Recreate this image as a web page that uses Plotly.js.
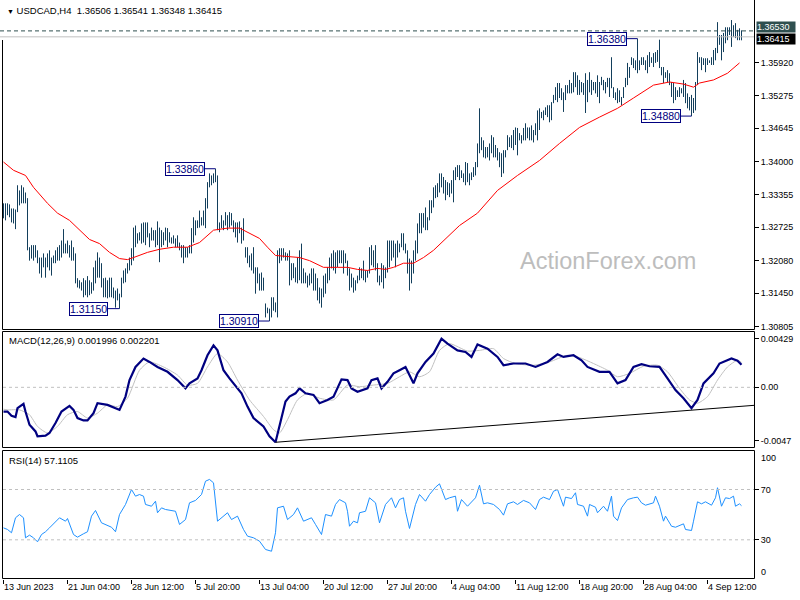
<!DOCTYPE html>
<html><head><meta charset="utf-8">
<script src="https://cdn.plot.ly/plotly-3.0.1.min.js"></script>
<style>html,body{margin:0;padding:0;background:#fff}#chart{width:800px;height:600px}</style>
</head><body><div id="chart"></div>
<script>
// ---------- DATA ----------
const symbol = 'USDCAD,H4';
const lastOpen = 1.36506;
const lastClose = 1.36415;
const levelLine = 1.36530;

const highs = [
1.3319,1.3319,1.3319,1.3317,1.3309,1.3309,1.3307,1.3354,1.3344,1.3354,
1.3350,1.3340,1.3329,1.3234,1.3238,1.3238,1.3238,1.3228,1.3214,1.3214,
1.3222,1.3214,1.3222,1.3228,1.3214,1.3218,1.3228,1.3234,1.3238,1.3247,
1.3269,1.3241,1.3247,1.3238,1.3247,1.3234,1.3222,1.3174,1.3170,1.3166,
1.3174,1.3170,1.3178,1.3170,1.3166,1.3195,1.3208,1.3224,1.3214,1.3203,
1.3174,1.3175,1.3170,1.3175,1.3175,1.3156,1.3150,1.3154,1.3144,1.3175,
1.3189,1.3193,1.3203,1.3214,1.3232,1.3272,1.3276,1.3261,1.3263,1.3280,
1.3282,1.3282,1.3282,1.3261,1.3272,1.3267,1.3267,1.3284,1.3272,1.3267,
1.3263,1.3272,1.3271,1.3263,1.3253,1.3257,1.3251,1.3257,1.3243,1.3238,
1.3238,1.3234,1.3234,1.3238,1.3271,1.3292,1.3286,1.3286,1.3305,1.3292,
1.3305,1.3329,1.3360,1.3377,1.3373,1.3377,1.3386,1.3373,1.3282,1.3296,
1.3286,1.3302,1.3296,1.3302,1.3300,1.3286,1.3282,1.3282,1.3284,1.3272,
1.3290,1.3234,1.3234,1.3218,1.3222,1.3234,1.3195,1.3195,1.3183,1.3185,
1.3175,1.3125,1.3117,1.3115,1.3137,1.3137,1.3127,1.3228,1.3232,1.3232,
1.3232,1.3224,1.3222,1.3228,1.3203,1.3203,1.3195,1.3214,1.3228,1.3241,
1.3193,1.3185,1.3179,1.3183,1.3193,1.3193,1.3183,1.3174,1.3156,1.3154,
1.3179,1.3183,1.3195,1.3214,1.3222,1.3228,1.3224,1.3228,1.3228,1.3228,
1.3228,1.3222,1.3208,1.3193,1.3183,1.3175,1.3170,1.3179,1.3195,1.3193,
1.3208,1.3189,1.3189,1.3234,1.3238,1.3228,1.3238,1.3203,1.3179,1.3203,
1.3199,1.3195,1.3247,1.3247,1.3247,1.3247,1.3241,1.3247,1.3241,1.3261,
1.3261,1.3241,1.3228,1.3212,1.3208,1.3228,1.3247,1.3280,1.3300,1.3300,
1.3300,1.3311,1.3292,1.3325,1.3325,1.3350,1.3354,1.3358,1.3377,1.3377,
1.3370,1.3364,1.3360,1.3358,1.3364,1.3383,1.3389,1.3393,1.3393,1.3383,
1.3377,1.3399,1.3397,1.3377,1.3379,1.3389,1.3399,1.3435,1.3503,1.3447,
1.3441,1.3428,1.3428,1.3435,1.3451,1.3447,1.3432,1.3426,1.3418,1.3416,
1.3422,1.3422,1.3451,1.3447,1.3451,1.3461,1.3466,1.3465,1.3455,1.3451,
1.3465,1.3474,1.3466,1.3466,1.3470,1.3461,1.3474,1.3499,1.3503,1.3496,
1.3499,1.3505,1.3509,1.3509,1.3515,1.3529,1.3544,1.3552,1.3552,1.3542,
1.3534,1.3548,1.3548,1.3558,1.3552,1.3573,1.3573,1.3567,1.3558,1.3554,
1.3552,1.3571,1.3558,1.3573,1.3558,1.3554,1.3554,1.3567,1.3554,1.3564,
1.3558,1.3554,1.3562,1.3562,1.3602,1.3544,1.3534,1.3542,1.3538,1.3525,
1.3544,1.3562,1.3591,1.3583,1.3602,1.3600,1.3596,1.3638,1.3596,1.3602,
1.3602,1.3596,1.3606,1.3612,1.3602,1.3610,1.3612,1.3616,1.3636,1.3583,
1.3583,1.3573,1.3577,1.3571,1.3554,1.3552,1.3544,1.3538,1.3544,1.3542,
1.3558,1.3552,1.3532,1.3525,1.3529,1.3523,1.3554,1.3612,1.3602,1.3602,
1.3600,1.3600,1.3600,1.3596,1.3602,1.3616,1.3620,1.3670,1.3645,1.3645,
1.3649,1.3660,1.3660,1.3660,1.3674,1.3664,1.3668,1.3655,1.3658,1.36541];

const lows = [
1.3290,1.3286,1.3296,1.3292,1.3282,1.3280,1.3269,1.3302,1.3315,1.3319,
1.3319,1.3319,1.3228,1.3208,1.3212,1.3208,1.3214,1.3203,1.3183,1.3175,
1.3195,1.3175,1.3195,1.3189,1.3179,1.3203,1.3203,1.3208,1.3208,1.3214,
1.3222,1.3222,1.3222,1.3214,1.3208,1.3208,1.3164,1.3156,1.3154,1.3150,
1.3137,1.3141,1.3137,1.3141,1.3144,1.3150,1.3164,1.3175,1.3175,1.3156,
1.3137,1.3137,1.3135,1.3137,1.3137,1.3135,1.3117,1.3131,1.3115,1.3137,
1.3164,1.3166,1.3183,1.3189,1.3199,1.3208,1.3234,1.3241,1.3247,1.3241,
1.3243,1.3238,1.3253,1.3234,1.3247,1.3247,1.3234,1.3238,1.3205,1.3234,
1.3238,1.3247,1.3234,1.3243,1.3241,1.3241,1.3234,1.3234,1.3228,1.3214,
1.3203,1.3214,1.3214,1.3222,1.3222,1.3243,1.3257,1.3271,1.3272,1.3276,
1.3276,1.3271,1.3309,1.3350,1.3354,1.3358,1.3360,1.3267,1.3263,1.3271,
1.3267,1.3276,1.3267,1.3272,1.3276,1.3263,1.3253,1.3243,1.3261,1.3241,
1.3247,1.3214,1.3203,1.3195,1.3189,1.3183,1.3144,1.3164,1.3150,1.3150,
1.3150,1.3098,1.3106,1.3091,1.3098,1.3111,1.3108,1.3098,1.3203,1.3208,
1.3214,1.3208,1.3208,1.3160,1.3170,1.3174,1.3166,1.3164,1.3170,1.3164,
1.3164,1.3164,1.3156,1.3160,1.3164,1.3150,1.3150,1.3131,1.3125,1.3117,
1.3137,1.3144,1.3164,1.3170,1.3193,1.3189,1.3183,1.3195,1.3203,1.3203,
1.3183,1.3203,1.3179,1.3150,1.3156,1.3146,1.3150,1.3164,1.3170,1.3174,
1.3170,1.3166,1.3175,1.3183,1.3199,1.3195,1.3189,1.3166,1.3160,1.3166,
1.3154,1.3174,1.3185,1.3195,1.3208,1.3214,1.3195,1.3214,1.3224,1.3234,
1.3228,1.3222,1.3183,1.3150,1.3164,1.3183,1.3208,1.3222,1.3261,1.3261,
1.3272,1.3267,1.3267,1.3286,1.3300,1.3311,1.3329,1.3331,1.3340,1.3350,
1.3338,1.3325,1.3335,1.3331,1.3338,1.3321,1.3364,1.3370,1.3364,1.3368,
1.3360,1.3354,1.3360,1.3354,1.3364,1.3370,1.3373,1.3389,1.3416,1.3422,
1.3408,1.3406,1.3408,1.3402,1.3416,1.3408,1.3408,1.3402,1.3389,1.3370,
1.3377,1.3408,1.3422,1.3428,1.3426,1.3422,1.3432,1.3412,1.3441,1.3435,
1.3441,1.3441,1.3445,1.3441,1.3441,1.3437,1.3451,1.3441,1.3461,1.3484,
1.3480,1.3490,1.3486,1.3476,1.3480,1.3513,1.3519,1.3515,1.3523,1.3519,
1.3496,1.3519,1.3532,1.3532,1.3532,1.3534,1.3544,1.3529,1.3529,1.3534,
1.3529,1.3494,1.3515,1.3534,1.3529,1.3538,1.3532,1.3525,1.3513,1.3548,
1.3538,1.3532,1.3544,1.3525,1.3542,1.3523,1.3519,1.3513,1.3515,1.3509,
1.3523,1.3544,1.3548,1.3562,1.3587,1.3581,1.3577,1.3571,1.3577,1.3587,
1.3587,1.3577,1.3571,1.3583,1.3591,1.3583,1.3591,1.3593,1.3581,1.3567,
1.3552,1.3562,1.3554,1.3548,1.3525,1.3513,1.3519,1.3525,1.3525,1.3532,
1.3525,1.3513,1.3503,1.3499,1.3488,1.3494,1.3499,1.3548,1.3591,1.3577,
1.3587,1.3573,1.3587,1.3591,1.3587,1.3587,1.3596,1.3610,1.3626,1.3596,
1.3612,1.3629,1.3635,1.3645,1.3622,1.3641,1.3639,1.3635,1.3635,1.36348];

// moving average (red line), sampled at bar numbers
const emaIdx = [0,5,11,15,22,27,33,38,43,48,53,58,62,65,72,78,85,92,98,105,
112,118,125,128,132,136,142,148,153,160,167,172,177,182,187,191,195,200,205,210,
215,222,228,237,247,257,268,278,288,298,307,315,325,333,340,345,348,355,362,368];
const emaVal = [1.3399,1.3383,1.3373,1.3350,1.3319,1.3300,1.3286,1.3267,1.3249,1.3241,
1.3224,1.3212,1.3210,1.3214,1.3224,1.3230,1.3234,1.3234,1.3243,1.3267,
1.3271,1.3271,1.3257,1.3251,1.3234,1.3218,1.3216,1.3214,1.3208,1.3195,
1.3195,1.3195,1.3191,1.3189,1.3193,1.3191,1.3195,1.3203,1.3203,1.3214,
1.3228,1.3253,1.3276,1.3300,1.3344,1.3373,1.3402,1.3435,1.3466,1.3486,
1.3503,1.3523,1.3548,1.3554,1.3550,1.3544,1.3552,1.3558,1.3571,1.3591];

// swing labels
const swingIdx = [106, 58, 133, 317, 344];
const swingVal = [1.33860, 1.31150, 1.30910, 1.36380, 1.34880];

// MACD(12,26,9)
const macdIdx = [0,2,4,6,7,10,11,13,16,17,21,23,26,29,33,35,37,40,42,45,
47,52,56,58,61,63,66,70,73,77,82,87,91,93,97,99,102,105,107,110,
113,117,119,122,125,130,133,136,138,141,143,146,148,151,155,158,162,165,169,172,
174,177,182,184,187,189,192,195,198,201,205,207,211,215,219,222,227,231,234,237,
242,247,250,255,261,266,272,277,280,285,289,292,298,303,307,311,315,319,323,328,
332,336,340,344,347,350,355,358,364,367,369];
const macdVal = [-0.00214,-0.00214,-0.00251,-0.00263,-0.00184,-0.00146,-0.00214,-0.00330,-0.00389,-0.00432,
-0.00426,-0.00403,-0.00315,-0.00214,-0.00164,-0.00199,-0.00271,-0.00292,-0.00292,-0.00228,
-0.00140,-0.00155,-0.00184,-0.00199,-0.00082,0.00064,0.00180,0.00254,0.00224,0.00180,
0.00137,0.00064,-0.00009,0.00035,0.00079,0.00151,0.00283,0.00370,0.00326,0.00151,
0.00079,-0.00009,-0.00053,-0.00170,-0.00271,-0.00345,-0.00432,-0.00485,-0.00345,-0.00126,
-0.00082,-0.00053,-0.00009,-0.00053,-0.00067,-0.00140,-0.00111,-0.00082,0.00070,0.00064,
-0.00009,-0.00039,-0.00009,0.00064,0.00079,-0.00009,0.00049,0.00123,0.00151,0.00180,
0.00035,0.00123,0.00224,0.00298,0.00429,0.00385,0.00326,0.00312,0.00268,0.00379,
0.00341,0.00268,0.00195,0.00210,0.00210,0.00180,0.00224,0.00291,0.00268,0.00283,
0.00239,0.00180,0.00137,0.00137,0.00035,0.00064,0.00180,0.00204,0.00186,0.00180,
0.00079,-0.00024,-0.00096,-0.00184,-0.00111,0.00035,0.00123,0.00210,0.00254,0.00235,
0.001996];
const sigIdx = [0,2,8,13,17,22,27,32,37,42,47,52,57,62,68,73,80,87,92,97,
102,107,112,117,123,130,135,138,142,147,152,158,165,172,178,185,192,198,203,208,
213,218,223,232,238,245,250,256,265,273,282,288,295,302,307,313,320,327,332,338,
343,347,352,357,362,367,369];
const sigVal = [-0.00193,-0.00199,-0.00199,-0.00242,-0.00345,-0.00403,-0.00345,-0.00242,-0.00214,-0.00271,
-0.00228,-0.00155,-0.00170,-0.00096,0.00151,0.00224,0.00180,0.00108,0.00020,0.00035,
0.00180,0.00298,0.00224,0.00064,-0.00111,-0.00257,-0.00374,-0.00403,-0.00286,-0.00111,
-0.00053,-0.00096,-0.00111,0.00020,0.00005,0.00020,0.00035,0.00093,0.00137,0.00093,
0.00137,0.00326,0.00385,0.00320,0.00326,0.00341,0.00254,0.00210,0.00195,0.00224,
0.00283,0.00263,0.00210,0.00151,0.00093,0.00123,0.00186,0.00195,0.00137,-0.00009,
-0.00111,-0.00140,-0.00082,0.00064,0.00180,0.00239,0.002201];
const trendIdx = [136, 375.25];
const trendVal = [-0.00485, -0.00159];

// RSI(14)
const rsiIdx = [0,2,4,6,8,10,11,13,15,17,19,21,23,26,28,31,32,35,37,40,
42,44,46,49,51,54,56,58,61,64,66,68,70,71,74,76,77,79,81,86,
88,91,93,96,99,101,103,105,107,110,112,114,117,120,122,125,128,131,134,136,
137,140,142,145,147,150,152,154,156,159,161,164,166,168,171,172,173,175,177,178,
181,183,186,188,191,194,196,198,200,201,203,204,206,208,211,213,216,218,221,223,
226,227,229,232,236,238,240,242,245,248,250,252,255,257,260,263,266,268,270,273,
275,277,280,281,284,286,287,290,292,293,296,297,300,302,304,305,307,309,312,315,
317,319,321,325,326,328,330,331,334,336,340,341,344,345,347,349,351,354,356,357,
359,361,363,365,366,368,369];
const rsiVal = [39.5,38.2,35.6,47.5,50.1,47.5,31.6,33.7,31.6,28.4,34.2,36.4,39.5,44.3,47.5,44.8,46.9,34.2,32.1,34.8,
36.4,48.8,53.3,43.5,42.2,40.0,36.4,50.1,58.1,70.0,64.7,66.0,64.7,58.1,56.7,60.7,51.5,55.4,54.1,52.7,
42.2,46.1,59.4,61.3,66.0,76.6,78.0,75.3,44.8,48.8,51.5,46.1,48.8,38.2,32.9,31.6,28.9,22.3,20.9,35.6,
55.4,56.7,46.1,50.1,55.4,44.8,46.1,47.5,42.2,34.2,50.1,48.8,58.1,62.0,59.4,52.7,40.8,44.8,43.5,51.5,
52.7,63.4,59.4,43.5,58.1,63.4,55.4,62.0,63.4,52.7,39.0,46.1,58.1,66.0,60.7,66.0,71.8,74.5,62.0,63.4,
64.7,52.7,62.0,56.7,63.4,73.4,58.6,59.4,58.1,54.1,49.6,58.6,60.2,58.1,61.3,59.4,54.1,62.0,63.9,62.0,
68.6,70.0,56.7,63.9,62.8,67.4,58.1,56.7,48.8,58.1,55.9,51.5,56.7,52.7,64.7,48.8,45.3,55.4,62.0,63.4,
63.9,59.4,57.5,59.4,64.7,56.7,44.8,48.8,40.8,40.0,42.7,38.2,37.4,44.8,60.2,58.6,60.2,57.5,63.4,71.4,
56.7,63.4,62.8,64.7,56.7,58.6,57.1105];

// axes
const xTickIdx = [0,32,64,96,128,160,192,224,256,288,320,352];
const xTickText = ['13 Jun 2023','21 Jun 04:00','28 Jun 12:00','5 Jul 20:00','13 Jul 04:00','20 Jul 12:00',
 '27 Jul 20:00','4 Aug 04:00','11 Aug 12:00','18 Aug 20:00','28 Aug 04:00','4 Sep 12:00'];
const priceTicks = [1.35920,1.35275,1.34645,1.34000,1.33355,1.32725,1.32080,1.31450,1.30805];
const macdTicks = [0.00429, 0, -0.0047];
const macdTickText = ['0.00429','0.00','-0.0047'];
const rsiLevels = [70, 30];

// ---------- DRAWING ----------
const W = 800, H = 600;
const PX = x => x / W, PY = y => 1 - y / H;
const FONT = 'Liberation Sans, Arial, sans-serif';
const BAR = '#133f5c';

const bx = [], by = [];
for (let i = 0; i < highs.length; i++) { bx.push(i, i, null); by.push(lows[i], highs[i], null); }

const traces = [
  {x: bx, y: by, type: 'scatter', mode: 'lines', line: {color: BAR, width: 1}, xaxis: 'x', yaxis: 'y', hoverinfo: 'skip'},
  {x: emaIdx, y: emaVal, type: 'scatter', mode: 'lines', line: {color: '#ff0000', width: 1}, xaxis: 'x', yaxis: 'y', hoverinfo: 'skip'},
  {x: sigIdx, y: sigVal, type: 'scatter', mode: 'lines', line: {color: '#c0c0c0', width: 1, shape: 'spline', smoothing: 0.6}, xaxis: 'x', yaxis: 'y2', hoverinfo: 'skip'},
  {x: macdIdx, y: macdVal, type: 'scatter', mode: 'lines', line: {color: '#000080', width: 2.2}, xaxis: 'x', yaxis: 'y2', hoverinfo: 'skip'},
  {x: trendIdx, y: trendVal, type: 'scatter', mode: 'lines', line: {color: '#000000', width: 1}, xaxis: 'x', yaxis: 'y2', hoverinfo: 'skip'},
  {x: rsiIdx, y: rsiVal, type: 'scatter', mode: 'lines', line: {color: '#1e90ff', width: 1}, xaxis: 'x', yaxis: 'y3', hoverinfo: 'skip'}
];

const last = highs.length - 1;
const fx = v => v.toFixed(5);

const tickFont = {family: FONT, size: 9, color: '#000'};
const yCommon = {side: 'right', anchor: 'x', showgrid: false, zeroline: false, showline: false,
  ticks: 'outside', ticklen: 4, tickcolor: '#000', tickfont: tickFont, fixedrange: true};

const shapes = [];
const line = (x0, y0, x1, y1, color, dash) => shapes.push({type: 'line', xref: 'paper', yref: 'paper',
  x0: PX(x0), y0: PY(y0), x1: PX(x1), y1: PY(y1), line: {color: color, width: 1, dash: dash || 'solid'}});
// panel frames
line(754.5, 0, 754.5, 329.5, '#000');
line(2.5, 329.5, 754.5, 329.5, '#000');
line(2.5, 40, 2.5, 329.5, '#000');
shapes.push({type: 'rect', xref: 'paper', yref: 'paper', x0: PX(2.5), x1: PX(754.5), y0: PY(331.5), y1: PY(447.5), line: {color: '#000', width: 1}});
shapes.push({type: 'rect', xref: 'paper', yref: 'paper', x0: PX(2.5), x1: PX(754.5), y0: PY(450.5), y1: PY(578.5), line: {color: '#000', width: 1}});
// price levels
shapes.push({type: 'line', xref: 'paper', yref: 'y', x0: PX(0), x1: PX(754), y0: lastClose, y1: lastClose, line: {color: '#c0c0c0', width: 1}});
shapes.push({type: 'line', xref: 'paper', yref: 'y', x0: PX(0), x1: PX(754), y0: levelLine, y1: levelLine, line: {color: '#2f4f4f', width: 1, dash: '4px,3px'}});
// MACD zero and RSI levels
shapes.push({type: 'line', xref: 'paper', yref: 'y2', x0: PX(3), x1: PX(754), y0: 0, y1: 0, line: {color: '#c0c0c0', width: 1, dash: '3px,3px'}});
rsiLevels.forEach(v => shapes.push({type: 'line', xref: 'paper', yref: 'y3', x0: PX(3), x1: PX(754), y0: v, y1: v, line: {color: '#c0c0c0', width: 1, dash: '3px,3px'}}));

const annotations = [
  {xref: 'paper', yref: 'paper', x: PX(5), y: PY(11), xanchor: 'left', yanchor: 'middle', showarrow: false,
   text: '<span style="font-size:7px">▼</span> ' + symbol + '\u00a0\u00a0' + [lastOpen, highs[last], lows[last], lastClose].map(fx).join(' '),
   font: {family: FONT, size: 9.5, color: '#000'}},
  {xref: 'paper', yref: 'paper', x: PX(7), y: PY(340), xanchor: 'left', yanchor: 'middle', showarrow: false,
   text: 'MACD(12,26,9) ' + macdVal[macdVal.length - 1].toFixed(6) + ' ' + sigVal[sigVal.length - 1].toFixed(6),
   font: {family: FONT, size: 9.5, color: '#000'}},
  {xref: 'paper', yref: 'paper', x: PX(7), y: PY(460), xanchor: 'left', yanchor: 'middle', showarrow: false,
   text: 'RSI(14) ' + rsiVal[rsiVal.length - 1].toFixed(4), font: {family: FONT, size: 9.5, color: '#000'}},
  {xref: 'paper', yref: 'paper', x: PX(608), y: PY(261), xanchor: 'center', yanchor: 'middle', showarrow: false,
   text: 'ActionForex.com', font: {family: FONT, size: 23.5, color: '#bdbdbd'}},
  {xref: 'paper', yref: 'paper', x: PX(759), y: PY(451), xanchor: 'left', yanchor: 'top', showarrow: false,
   text: '100', font: tickFont},
  {xref: 'paper', yref: 'paper', x: PX(759), y: PY(579), xanchor: 'left', yanchor: 'bottom', showarrow: false,
   text: '0', font: tickFont},
  {xref: 'paper', yref: 'y', x: PX(756), y: levelLine, yshift: 4, xanchor: 'left', yanchor: 'middle', showarrow: false,
   text: fx(levelLine) + '\u00a0\u00a0', bgcolor: '#2f4f4f', borderpad: 0, font: {family: FONT, size: 9, color: '#fff'}},
  {xref: 'paper', yref: 'y', x: PX(756), y: lastClose, yshift: -2, xanchor: 'left', yanchor: 'middle', showarrow: false,
   text: fx(lastClose) + '\u00a0\u00a0', bgcolor: '#000', borderpad: 0, font: {family: FONT, size: 9, color: '#fff'}}
];
swingIdx.forEach((ix, k) => annotations.push({
  xref: 'x', yref: 'y', x: ix, y: swingVal[k], text: fx(swingVal[k]), showarrow: true, arrowhead: 0,
  arrowwidth: 1, arrowcolor: '#000080', ax: -31, ay: 0, standoff: 0, startstandoff: 0,
  bgcolor: '#fff', bordercolor: '#000080', borderwidth: 1, borderpad: 0,
  font: {family: FONT, size: 10.5, color: '#000080'}
}));

const layout = {
  width: W, height: H, margin: {l: 0, r: 0, t: 0, b: 0},
  paper_bgcolor: '#fff', plot_bgcolor: 'rgba(0,0,0,0)', showlegend: false,
  xaxis: {domain: [PX(3), PX(754)], range: [-0.25, 375.25], anchor: 'y3', showgrid: false, zeroline: false,
    showline: false, tickvals: xTickIdx, ticktext: xTickText, ticks: 'outside', ticklen: 4, tickcolor: '#000',
    tickfont: tickFont, ticklabelposition: 'outside right', fixedrange: true},
  yaxis: Object.assign({}, yCommon, {domain: [PY(329.5), 1], range: [1.30746, 1.371286],
    tickvals: priceTicks, ticktext: priceTicks.map(fx)}),
  yaxis2: Object.assign({}, yCommon, {domain: [PY(447.5), PY(331.5)], range: [-0.005311, 0.004926],
    tickvals: macdTicks, ticktext: macdTickText}),
  yaxis3: Object.assign({}, yCommon, {domain: [PY(578.5), PY(450.5)], range: [-0.77, 101.0],
    tickvals: rsiLevels, ticktext: rsiLevels.map(String)}),
  shapes: shapes, annotations: annotations
};

Plotly.newPlot('chart', traces, layout, {staticPlot: true, displayModeBar: false});
</script></body></html>
